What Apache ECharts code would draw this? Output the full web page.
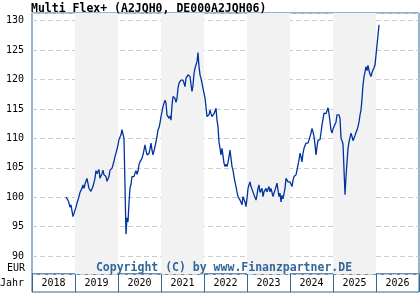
<!DOCTYPE html>
<html><head><meta charset="utf-8">
<script src="https://cdn.jsdelivr.net/npm/echarts@6/dist/echarts.min.js"></script>
<style>html,body{margin:0;padding:0;background:#fff}#c{width:420px;height:300px}</style>
</head><body><div id="c"></div>
<script>
const chartTitle = 'Multi Flex+ (A2JQH0, DE000A2JQH06)';
const copyrightText = 'Copyright (C) by www.Finanzpartner.DE';
const yearLabels = ['2018','2019','2020','2021','2022','2023','2024','2025','2026'];
const yUnitLabel = 'EUR';
const xUnitLabel = 'Jahr';
const firstSampleYear = 2018.79;
const sampleStepYears = 0.02326;
const values = [
100.0, 99.9, 99.5, 99.0, 98.3, 98.7, 98.5, 96.7, 97.2, 97.8,
98.3, 99.0, 99.5, 100.1, 100.8, 101.0, 101.5, 102.1, 101.5, 102.2,
102.7, 103.2, 103.5, 101.5, 101.3, 101.0, 101.3, 101.8, 102.1, 103.2,
104.5, 104.0, 104.3, 104.7, 103.2, 103.5, 104.0, 104.6, 103.8, 104.0,
103.5, 102.7, 103.0, 103.5, 104.6, 104.9, 104.9, 105.2, 106.1, 106.9,
107.5, 108.1, 108.9, 109.8, 109.7, 110.6, 111.5, 111.8, 110.0, 102.0,
93.7, 96.5, 95.8, 99.0, 101.5, 102.2, 103.5, 103.8, 103.5, 104.1,
104.5, 103.9, 104.4, 105.5, 106.0, 105.9, 106.6, 107.2, 108.0, 108.9,
108.0, 107.2, 106.9, 107.4, 108.2, 109.2, 108.0, 107.2, 106.9, 108.6,
109.4, 110.3, 111.4, 111.8, 112.6, 113.7, 114.5, 115.4, 115.7, 116.5,
116.0, 114.0, 113.7, 113.4, 113.8, 113.1, 115.6, 117.1, 117.1, 116.8,
116.1, 116.8, 118.5, 119.4, 119.5, 119.9, 120.2, 119.9, 119.4, 118.8,
120.2, 120.5, 120.8, 121.1, 120.5, 119.2, 118.0, 119.0, 121.0, 121.9,
122.5, 123.0, 124.6, 122.2, 120.8, 120.2, 119.4, 118.5, 118.3, 116.9,
115.3, 113.7, 113.4, 114.0, 114.8, 114.2, 113.7, 114.0, 114.2, 114.4,
115.1, 113.1, 112.0, 109.4, 108.3, 107.2, 108.3, 108.0, 105.8, 105.2,
105.6, 105.2, 105.9, 106.9, 108.0, 107.7, 105.2, 104.6, 103.5, 102.6,
101.8, 100.9, 100.1, 99.8, 99.5, 99.2, 98.7, 100.1, 99.6, 99.2,
98.4, 99.8, 101.5, 102.1, 102.6, 101.8, 101.5, 100.9, 100.4, 100.1,
99.5, 100.4, 101.5, 102.1, 100.8, 101.0, 101.5, 100.1, 100.9, 101.2,
101.5, 100.9, 101.2, 101.8, 100.9, 101.5, 101.2, 100.1, 100.7, 101.2,
101.8, 102.4, 101.2, 100.1, 100.7, 99.2, 100.3, 99.7, 100.6, 101.5,
103.2, 102.9, 102.6, 102.9, 102.6, 102.4, 101.8, 102.9, 103.5, 103.2,
103.8, 104.6, 105.5, 106.3, 107.5, 106.9, 106.0, 107.5, 108.3, 108.0,
109.2, 109.4, 109.2, 109.7, 110.0, 110.9, 111.7, 111.1, 110.3, 108.9,
107.2, 108.6, 109.7, 109.4, 109.8, 111.0, 112.3, 113.3, 114.3, 114.6,
114.2, 114.5, 115.2, 114.2, 112.8, 111.4, 110.9, 111.6, 112.0, 112.1,
112.8, 114.0, 114.3, 114.0, 113.4, 110.0, 109.6, 109.0, 104.6, 100.4,
103.5, 106.0, 108.3, 109.4, 109.6, 110.9, 110.3, 109.6, 109.9, 110.5,
111.0, 111.4, 112.0, 112.8, 114.0, 114.8, 116.8, 119.1, 120.5, 121.3,
122.2, 121.5, 122.4, 121.5, 120.9, 120.5, 121.2, 121.6, 122.0, 122.5,
124.2, 125.9, 127.6, 129.3
];
const yMin = 86.94, yMax = 131.31;
const xMin = 2018, xMax = 2027;

const seriesData = values.map((v, i) => [firstSampleYear + i * sampleStepYears, v]);
const mono = 'DejaVu Sans Mono';
const frame = '#336699';
const chart = echarts.init(document.getElementById('c'), null, {renderer: 'canvas'});
chart.setOption({
  animation: false,
  backgroundColor: '#ffffff',
  title: {text: chartTitle, left: 31, top: 3, padding: 0,
    textStyle: {fontFamily: mono, fontWeight: 'bold', fontSize: 11.5, color: '#000'}},
  grid: [
    {left: 32, top: 13, width: 387, height: 261, show: true, borderColor: frame, borderWidth: 1, backgroundColor: 'transparent'},
    {left: 32, top: 274, width: 387, height: 18, show: true, borderColor: frame, borderWidth: 1, backgroundColor: 'transparent'}
  ],
  xAxis: [
    {type: 'value', gridIndex: 0, min: xMin, max: xMax, interval: 1,
      axisLine: {show: false}, axisTick: {show: false}, axisLabel: {show: false},
      splitLine: {show: false},
      splitArea: {show: true, areaStyle: {color: ['rgba(255,255,255,0)', '#f2f2f2']}}},
    {type: 'category', gridIndex: 1, data: yearLabels, boundaryGap: true,
      axisLine: {show: false}, axisTick: {show: false},
      splitLine: {show: true, lineStyle: {color: frame, width: 1}},
      axisLabel: {margin: -9, verticalAlign: 'middle', fontFamily: mono, fontSize: 10, color: '#000'}}
  ],
  yAxis: [
    {type: 'value', gridIndex: 0, min: yMin, max: yMax, splitNumber: 9,
      axisLine: {show: false}, axisTick: {show: false},
      axisLabel: {showMinLabel: false, showMaxLabel: false, margin: 8, fontFamily: mono, fontSize: 10, color: '#000'},
      splitLine: {show: true, lineStyle: {color: '#cccccc', type: [5, 3], width: 1}}},
    {type: 'value', gridIndex: 1, show: false}
  ],
  graphic: [
    {type: 'text', x: 25, y: 268.5, style: {text: yUnitLabel, textAlign: 'right', textVerticalAlign: 'middle', font: '10px "DejaVu Sans Mono"', fill: '#000'}},
    {type: 'text', x: 0, y: 283, style: {text: xUnitLabel, textAlign: 'left', textVerticalAlign: 'middle', font: '10px "DejaVu Sans Mono"', fill: '#000'}},
    {type: 'text', x: 224, y: 268, z: 100, style: {text: copyrightText, textAlign: 'center', textVerticalAlign: 'middle', font: 'bold 11.5px "DejaVu Sans Mono"', fill: '#336699'}}
  ],
  series: [{
    type: 'line', xAxisIndex: 0, yAxisIndex: 0, data: seriesData,
    showSymbol: false, symbol: 'none',
    lineStyle: {color: '#0033a0', width: 1.3},
    z: 5
  }]
});
</script></body></html>
